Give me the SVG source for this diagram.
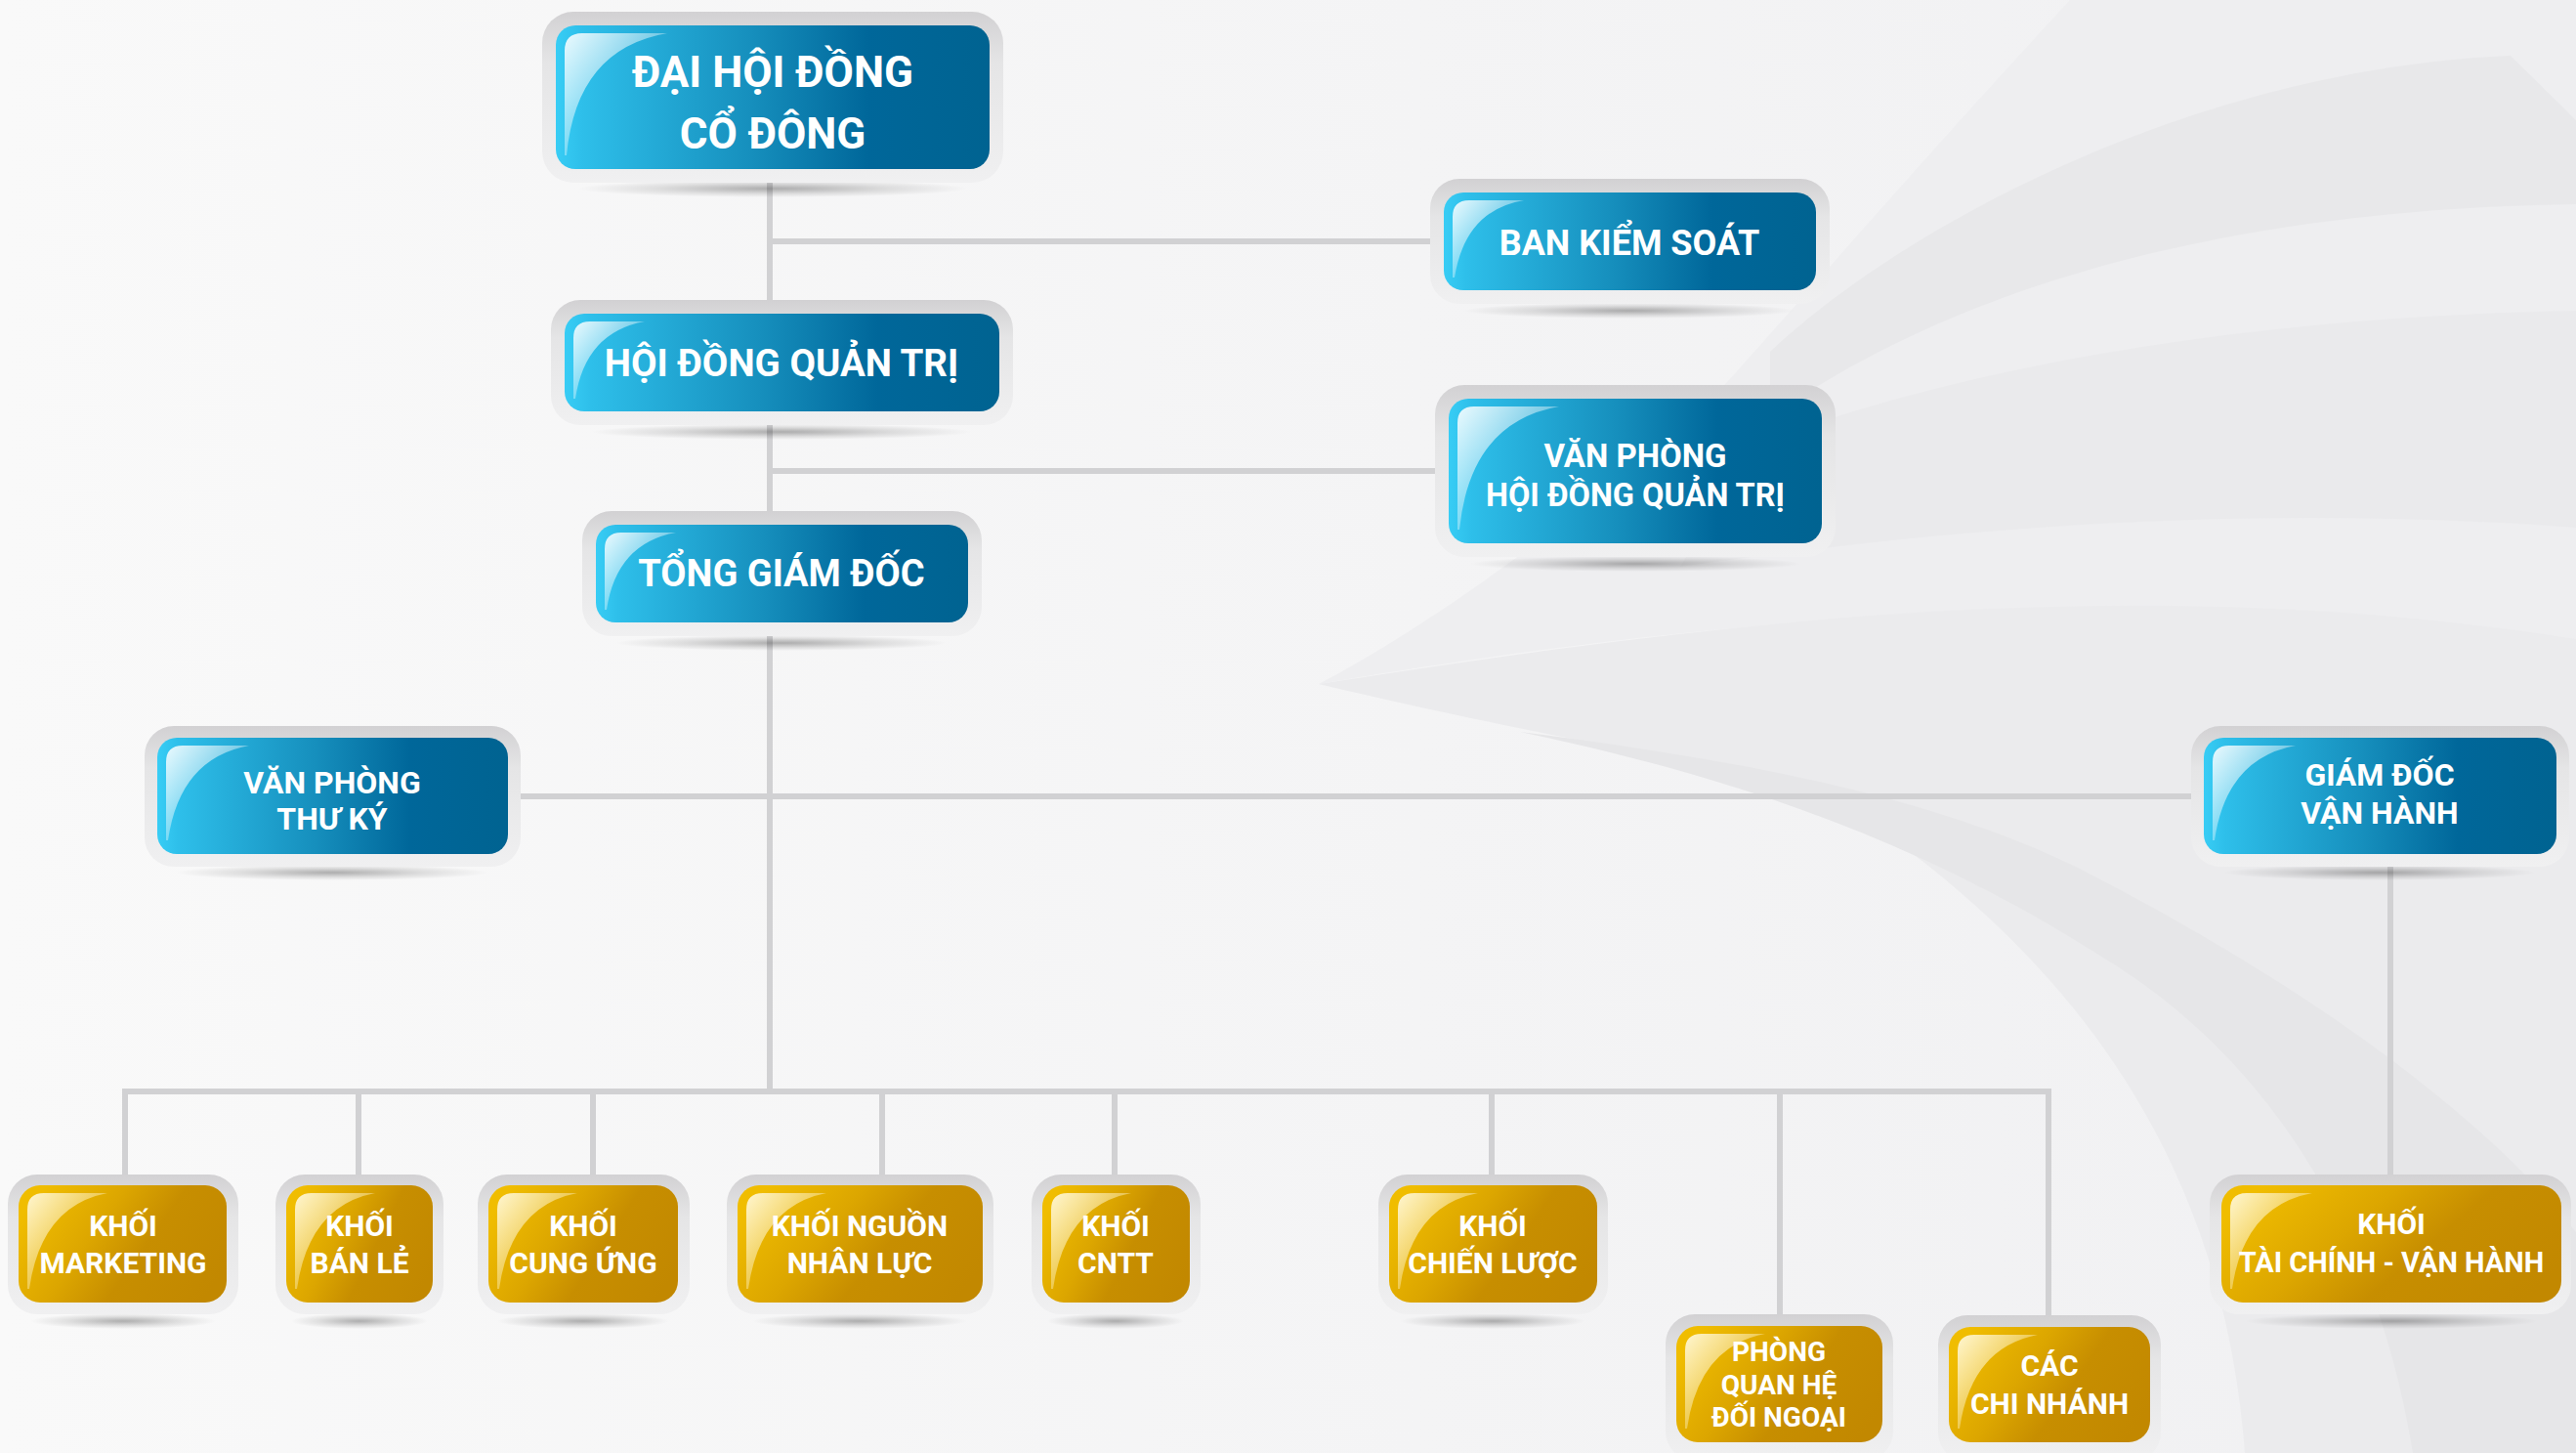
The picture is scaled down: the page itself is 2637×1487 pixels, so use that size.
<svg xmlns="http://www.w3.org/2000/svg" width="2637" height="1487" viewBox="0 0 2637 1487">
<style>
.frame{fill:url(#frameG);}
.blue{fill:url(#blueG);}
.gold{fill:url(#goldG);}
.gloss{fill:url(#glossG);}
.glossy{fill:url(#glossY);}
.shadow{fill:url(#shadowG);}
.t{font-family:Roboto,"Liberation Sans",sans-serif;font-weight:700;fill:#ffffff;text-anchor:middle;}
.conn line{stroke:#d1d1d3;stroke-width:6;stroke-linecap:square;}
</style>
<defs>
<linearGradient id="bgG" x1="0" y1="0" x2="1" y2="0">
<stop offset="0" stop-color="#f9f9f9"/>
<stop offset="0.55" stop-color="#f4f4f5"/>
<stop offset="1" stop-color="#f0f0f2"/>
</linearGradient>
<linearGradient id="blueG" x1="0" y1="0" x2="1" y2="0">
<stop offset="0" stop-color="#38cdf5"/>
<stop offset="0.06" stop-color="#2ebfea"/>
<stop offset="0.45" stop-color="#168fbd"/>
<stop offset="0.72" stop-color="#00679a"/>
<stop offset="1" stop-color="#006391"/>
</linearGradient>
<linearGradient id="goldG" x1="0" y1="0.3" x2="1" y2="0.7">
<stop offset="0" stop-color="#f0bd00"/>
<stop offset="0.35" stop-color="#dca600"/>
<stop offset="0.6" stop-color="#c78e00"/>
<stop offset="1" stop-color="#c28800"/>
</linearGradient>
<linearGradient id="frameG" x1="0" y1="0" x2="0" y2="1">
<stop offset="0" stop-color="#d2d1d3"/>
<stop offset="0.3" stop-color="#e5e5e6"/>
<stop offset="1" stop-color="#f0f0f1"/>
</linearGradient>
<linearGradient id="glossG" x1="0" y1="0" x2="1" y2="1">
<stop offset="0" stop-color="#ffffff" stop-opacity="0.9"/>
<stop offset="0.6" stop-color="#ffffff" stop-opacity="0.25"/>
<stop offset="1" stop-color="#ffffff" stop-opacity="0.05"/>
</linearGradient>
<linearGradient id="glossY" x1="0" y1="0" x2="1" y2="1">
<stop offset="0" stop-color="#fff8dc" stop-opacity="0.95"/>
<stop offset="0.6" stop-color="#fff4c8" stop-opacity="0.3"/>
<stop offset="1" stop-color="#ffffff" stop-opacity="0.05"/>
</linearGradient>
<radialGradient id="shadowG" cx="0.5" cy="0.5" r="0.5">
<stop offset="0" stop-color="#000000" stop-opacity="0.3"/>
<stop offset="0.6" stop-color="#000000" stop-opacity="0.1"/>
<stop offset="1" stop-color="#000000" stop-opacity="0"/>
</radialGradient>
</defs>

<g id="background">
<rect x="0" y="0" width="2637" height="1487" fill="url(#bgG)"/>
<path d="M1760,400 C1850,300 1980,150 2119,0 L2637,0 L2637,654 C2200,585 1700,640 1350,700 C1500,620 1650,500 1760,400 Z" fill="#eeeef0"/>
<path d="M1812,360 C1950,230 2250,70 2570,57 L2637,123 L2637,209 C2200,215 1950,330 1812,427 Z" fill="#e8e8ea"/>
<path d="M1760,470 C1950,390 2250,325 2637,318 L2637,540 C2300,515 2000,540 1720,580 C1740,550 1750,510 1760,470 Z" fill="#eaeaec"/>
<path d="M1350,700 C1800,630 2200,585 2637,654 L2637,1487 L2298,1487 C2280,1250 2180,1020 1897,830 C1750,775 1600,760 1350,700 Z" fill="#ebebed"/>
<path d="M1556,749 C1800,780 2000,820 2150,900 C2380,1020 2550,1150 2637,1261 L2637,1487 L2470,1487 C2440,1300 2350,1100 2153,980 C1950,850 1750,790 1556,749 Z" fill="#e6e6e8"/>
</g>

<g id="connectors" class="conn">
<line x1="788" y1="187" x2="788" y2="1117"/>
<line x1="788" y1="247" x2="1463" y2="247"/>
<line x1="788" y1="482" x2="1468" y2="482"/>
<line x1="532" y1="815" x2="2243" y2="815"/>
<line x1="2447" y1="887" x2="2447" y2="1202"/>
<line x1="128" y1="1117" x2="2097" y2="1117"/>
<line x1="128" y1="1117" x2="128" y2="1202"/>
<line x1="367" y1="1117" x2="367" y2="1202"/>
<line x1="607" y1="1117" x2="607" y2="1202"/>
<line x1="903" y1="1117" x2="903" y2="1202"/>
<line x1="1141" y1="1117" x2="1141" y2="1202"/>
<line x1="1527" y1="1117" x2="1527" y2="1202"/>
<line x1="1822" y1="1117" x2="1822" y2="1345"/>
<line x1="2097" y1="1117" x2="2097" y2="1346"/>
</g>

<g id="node-dai-hoi-dong-co-dong">
<ellipse class="shadow" cx="791" cy="193" rx="200" ry="9"/>
<rect class="frame" x="555" y="12" width="472" height="175" rx="32"/>
<rect class="blue" x="569" y="26" width="444" height="147" rx="20"/>
<path class="gloss" d="M578,159 L578,52 Q578,34 596,34 L683,34 Q590,50 580,159 Z"/>
<text class="t" x="791" y="89" font-size="44">ĐẠI HỘI ĐỒNG</text>
<text class="t" x="791" y="152" font-size="44">CỔ ĐÔNG</text>
</g>

<g id="node-ban-kiem-soat">
<ellipse class="shadow" cx="1668" cy="318" rx="170" ry="8"/>
<rect class="frame" x="1464" y="183" width="409" height="128" rx="30"/>
<rect class="blue" x="1478" y="197" width="381" height="100" rx="20"/>
<path class="gloss" d="M1487,284 L1487,222 Q1487,205 1504,205 L1560,205 Q1500,215 1489,284 Z"/>
<text class="t" x="1668" y="261" font-size="36">BAN KIỂM SOÁT</text>
</g>

<g id="node-hoi-dong-quan-tri">
<ellipse class="shadow" cx="800" cy="442" rx="195" ry="8"/>
<rect class="frame" x="564" y="307" width="473" height="128" rx="30"/>
<rect class="blue" x="578" y="321" width="445" height="100" rx="20"/>
<path class="gloss" d="M587,408 L587,346 Q587,329 604,329 L660,329 Q599,340 589,408 Z"/>
<text class="t" x="800" y="385" font-size="38.5">HỘI ĐỒNG QUẢN TRỊ</text>
</g>

<g id="node-van-phong-hdqt">
<ellipse class="shadow" cx="1674" cy="577" rx="170" ry="8"/>
<rect class="frame" x="1469" y="394" width="410" height="176" rx="30"/>
<rect class="blue" x="1483" y="408" width="382" height="148" rx="20"/>
<path class="gloss" d="M1492,542 L1492,433 Q1492,416 1509,416 L1596,416 Q1505,432 1494,542 Z"/>
<text class="t" x="1674" y="478" font-size="33">VĂN PHÒNG</text>
<text class="t" x="1674" y="518" font-size="32.5">HỘI ĐỒNG QUẢN TRỊ</text>
</g>

<g id="node-tong-giam-doc">
<ellipse class="shadow" cx="800" cy="658" rx="170" ry="8"/>
<rect class="frame" x="596" y="523" width="409" height="128" rx="30"/>
<rect class="blue" x="610" y="537" width="381" height="100" rx="20"/>
<path class="gloss" d="M619,624 L619,562 Q619,545 636,545 L692,545 Q631,556 621,624 Z"/>
<text class="t" x="800" y="600" font-size="38">TỔNG GIÁM ĐỐC</text>
</g>

<g id="node-van-phong-thu-ky">
<ellipse class="shadow" cx="340" cy="893" rx="160" ry="8"/>
<rect class="frame" x="148" y="743" width="385" height="144" rx="30"/>
<rect class="blue" x="161" y="755" width="359" height="119" rx="20"/>
<path class="gloss" d="M170,860 L170,780 Q170,763 187,763 L255,763 Q184,776 172,860 Z"/>
<text class="t" x="340" y="812" font-size="32">VĂN PHÒNG</text>
<text class="t" x="340" y="849" font-size="32">THƯ KÝ</text>
</g>

<g id="node-giam-doc-van-hanh">
<ellipse class="shadow" cx="2436" cy="893" rx="160" ry="8"/>
<rect class="frame" x="2243" y="743" width="387" height="144" rx="30"/>
<rect class="blue" x="2256" y="755" width="361" height="119" rx="20"/>
<path class="gloss" d="M2265,860 L2265,780 Q2265,763 2282,763 L2350,763 Q2279,776 2267,860 Z"/>
<text class="t" x="2436" y="804" font-size="32">GIÁM ĐỐC</text>
<text class="t" x="2436" y="843" font-size="32">VẬN HÀNH</text>
</g>

<g id="node-khoi-marketing">
<ellipse class="shadow" cx="126" cy="1352" rx="95" ry="8"/>
<rect class="frame" x="8" y="1202" width="236" height="143" rx="30"/>
<rect class="gold" x="19" y="1213" width="213" height="120" rx="22"/>
<path class="glossy" d="M28,1319 L28,1238 Q28,1221 45,1221 L110,1221 Q42,1234 30,1319 Z"/>
<text class="t" x="126" y="1265" font-size="30">KHỐI</text>
<text class="t" x="126" y="1303" font-size="30">MARKETING</text>
</g>

<g id="node-khoi-ban-le">
<ellipse class="shadow" cx="368" cy="1352" rx="70" ry="8"/>
<rect class="frame" x="282" y="1202" width="172" height="143" rx="30"/>
<rect class="gold" x="293" y="1213" width="150" height="120" rx="22"/>
<path class="glossy" d="M302,1319 L302,1238 Q302,1221 319,1221 L384,1221 Q316,1234 304,1319 Z"/>
<text class="t" x="368" y="1265" font-size="30">KHỐI</text>
<text class="t" x="368" y="1303" font-size="30">BÁN LẺ</text>
</g>

<g id="node-khoi-cung-ung">
<ellipse class="shadow" cx="597" cy="1352" rx="88" ry="8"/>
<rect class="frame" x="489" y="1202" width="217" height="143" rx="30"/>
<rect class="gold" x="500" y="1213" width="194" height="120" rx="22"/>
<path class="glossy" d="M509,1319 L509,1238 Q509,1221 526,1221 L591,1221 Q523,1234 511,1319 Z"/>
<text class="t" x="597" y="1265" font-size="30">KHỐI</text>
<text class="t" x="597" y="1303" font-size="30">CUNG ỨNG</text>
</g>

<g id="node-khoi-nguon-nhan-luc">
<ellipse class="shadow" cx="880" cy="1352" rx="110" ry="8"/>
<rect class="frame" x="744" y="1202" width="273" height="143" rx="30"/>
<rect class="gold" x="755" y="1213" width="251" height="120" rx="22"/>
<path class="glossy" d="M764,1319 L764,1238 Q764,1221 781,1221 L846,1221 Q778,1234 766,1319 Z"/>
<text class="t" x="880" y="1265" font-size="30">KHỐI NGUỒN</text>
<text class="t" x="880" y="1303" font-size="30">NHÂN LỰC</text>
</g>

<g id="node-khoi-cntt">
<ellipse class="shadow" cx="1142" cy="1352" rx="70" ry="8"/>
<rect class="frame" x="1056" y="1202" width="173" height="143" rx="30"/>
<rect class="gold" x="1067" y="1213" width="151" height="120" rx="22"/>
<path class="glossy" d="M1076,1319 L1076,1238 Q1076,1221 1093,1221 L1158,1221 Q1090,1234 1078,1319 Z"/>
<text class="t" x="1142" y="1265" font-size="30">KHỐI</text>
<text class="t" x="1142" y="1303" font-size="30">CNTT</text>
</g>

<g id="node-khoi-chien-luoc">
<ellipse class="shadow" cx="1528" cy="1352" rx="95" ry="8"/>
<rect class="frame" x="1411" y="1202" width="235" height="143" rx="30"/>
<rect class="gold" x="1422" y="1213" width="213" height="120" rx="22"/>
<path class="glossy" d="M1431,1319 L1431,1238 Q1431,1221 1448,1221 L1513,1221 Q1445,1234 1433,1319 Z"/>
<text class="t" x="1528" y="1265" font-size="30">KHỐI</text>
<text class="t" x="1528" y="1303" font-size="30">CHIẾN LƯỢC</text>
</g>

<g id="node-phong-quan-he-doi-ngoai">
<rect class="frame" x="1705" y="1345" width="233" height="150" rx="30"/>
<rect class="gold" x="1716" y="1357" width="211" height="119" rx="22"/>
<path class="glossy" d="M1725,1462 L1725,1382 Q1725,1365 1742,1365 L1807,1365 Q1739,1378 1727,1462 Z"/>
<text class="t" x="1821" y="1393" font-size="28">PHÒNG</text>
<text class="t" x="1821" y="1427" font-size="28">QUAN HỆ</text>
<text class="t" x="1821" y="1460" font-size="28">ĐỐI NGOẠI</text>
</g>

<g id="node-cac-chi-nhanh">
<rect class="frame" x="1984" y="1346" width="228" height="150" rx="30"/>
<rect class="gold" x="1995" y="1358" width="206" height="118" rx="22"/>
<path class="glossy" d="M2004,1462 L2004,1383 Q2004,1366 2021,1366 L2086,1366 Q2018,1379 2006,1462 Z"/>
<text class="t" x="2098" y="1408" font-size="30">CÁC</text>
<text class="t" x="2098" y="1447" font-size="30">CHI NHÁNH</text>
</g>

<g id="node-khoi-tai-chinh-van-hanh">
<ellipse class="shadow" cx="2448" cy="1352" rx="150" ry="8"/>
<rect class="frame" x="2262" y="1202" width="370" height="143" rx="30"/>
<rect class="gold" x="2274" y="1213" width="348" height="120" rx="22"/>
<path class="glossy" d="M2283,1319 L2283,1238 Q2283,1221 2300,1221 L2367,1221 Q2297,1234 2285,1319 Z"/>
<text class="t" x="2448" y="1263" font-size="30">KHỐI</text>
<text class="t" x="2448" y="1302" font-size="29">TÀI CHÍNH - VẬN HÀNH</text>
</g>
</svg>
